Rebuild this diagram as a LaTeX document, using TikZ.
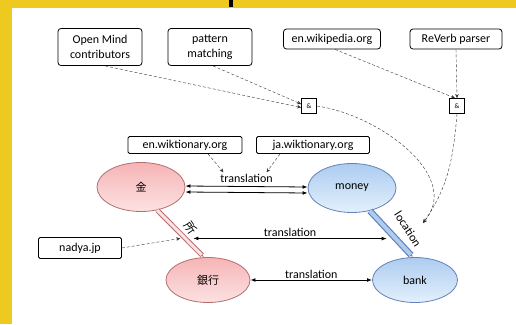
\documentclass[tikz,border=0pt]{standalone}
\usepackage{fontspec}
\setmainfont{Carlito}
\newfontfamily\jafont{Noto Sans CJK JP}
\usetikzlibrary{shapes.geometric,arrows.meta}
\definecolor{slideyellow}{RGB}{238,202,32}
\definecolor{pinktop}{RGB}{246,180,182}
\definecolor{pinkbottom}{RGB}{252,226,226}
\definecolor{pinkline}{RGB}{180,110,112}
\definecolor{bluetop}{RGB}{172,204,240}
\definecolor{bluebottom}{RGB}{228,240,252}
\definecolor{blueline}{RGB}{100,130,185}
\tikzset{
    source-box/.style = {draw, thick, rounded corners=3pt, fill=white, align=center, inner sep=2pt, minimum height=20pt, font=\fontsize{12}{15}\selectfont},
    and-box/.style = {draw, thick, minimum size=15pt, inner sep=0pt, font=\fontsize{7}{8}\selectfont},
    ja-word/.style = {ellipse, draw=pinkline, thick, top color=pinktop, bottom color=pinkbottom, inner sep=0pt, font=\fontsize{11}{12}\selectfont},
    en-word/.style = {ellipse, draw=blueline, thick, top color=bluetop, bottom color=bluebottom, inner sep=0pt, font=\fontsize{12}{13}\selectfont},
    source-arrow/.style = {densely dashed, gray!40!black, -{Stealth[length=4pt, width=3.5pt]}},
    trans-arrow/.style = {thick, {Latex[length=5pt]}-{Latex[length=5pt]}},
    edge-label/.style = {font=\fontsize{12}{13}\selectfont, inner sep=1.5pt},
}
\begin{document}
\begin{tikzpicture}[x=1pt, y=-1pt]
\useasboundingbox (0,0) rectangle (516,324);
\fill[slideyellow] (0,0) rectangle (516,324);
\fill[white] (12,8) rectangle (516,324);
\fill[black] (229,0) rectangle (233,7);

\node[source-box, minimum width=84pt, minimum height=37pt] (open-mind) at (100,47) {Open Mind\\contributors};
\node[source-box, minimum width=84pt, minimum height=37pt] (pattern) at (210,47) {pattern\\matching};
\node[source-box, minimum width=97pt] (wikipedia) at (332,39) {en.wikipedia.org};
\node[source-box, minimum width=92pt] (reverb) at (456,39) {ReVerb parser};
\node[and-box] (and-a) at (309,106) {\&};
\node[and-box] (and-b) at (457,106) {\&};
\node[source-box, rounded corners=1.5pt, minimum width=114pt, minimum height=17pt] (en-wikt) at (185,145) {en.wiktionary.org};
\node[source-box, rounded corners=1.5pt, minimum width=113pt, minimum height=17pt] (ja-wikt) at (313,145) {ja.wiktionary.org};
\node[source-box, rounded corners=1.5pt, minimum width=83pt, minimum height=21pt] (nadya) at (80,248) {nadya.jp};

\node[ja-word, minimum width=88pt, minimum height=49pt] (kin) at (141,187) {\jafont 金};
\node[en-word, minimum width=88pt, minimum height=49pt] (money) at (352,188) {money};
\node[ja-word, minimum width=84pt, minimum height=45pt] (ginkou) at (208,280) {\jafont 銀行};
\node[en-word, minimum width=85pt, minimum height=45pt] (bank) at (415,280) {bank};

\draw[pinkline, double=pinkbottom, line width=1pt, double distance=3pt, -{Latex[length=3pt]}] (kin.-55) -- coordinate[pos=0.6] (sho-mid) (ginkou.100);
\draw[blueline, double=bluetop, line width=1.2pt, double distance=4pt, -{Latex[length=3pt]}] (money.-52) -- coordinate[pos=0.6] (loc-mid) (bank.95);
\node[edge-label, rotate=-55] (sho-label) at (191,228) {\jafont 所};
\node[edge-label, rotate=-57] (loc-label) at (408,229) {location};

\draw[trans-arrow] ([yshift=1pt]kin.east) -- node[edge-label, above=2pt] (trans-top) {translation} ([yshift=1pt]money.west);
\draw[trans-arrow] ([yshift=-5pt]kin.east) -- ([yshift=-5pt]money.west);
\draw[trans-arrow] ([xshift=8pt]sho-mid) -- node[edge-label, above] {translation} ([xshift=-9pt]loc-mid);
\draw[trans-arrow] (ginkou.east) -- node[edge-label, above] {translation} (bank.west);

\draw[source-arrow] ([xshift=5pt]open-mind.south) -- ([yshift=-1.5pt]and-a.west);
\draw[source-arrow] ([xshift=3pt]pattern.south) -- ([yshift=2pt]and-a.west);
\draw[source-arrow] ([xshift=3pt]wikipedia.south) -- ([xshift=-2pt]and-b.north);
\draw[source-arrow] (reverb.south) -- (and-b.north);
\draw[source-arrow] ([xshift=23pt]en-wikt.south) -- ([xshift=5pt]trans-top.north west);
\draw[source-arrow] ([xshift=-33pt]ja-wikt.south) -- ([xshift=-8pt]trans-top.north east);
\draw[source-arrow] (nadya.east) -- ([xshift=-5pt]sho-mid);
\draw[source-arrow] (and-a.east) to[out=-8, in=50] ([xshift=15pt,yshift=6pt]loc-label.center);
\draw[source-arrow] (and-b.south) to[out=-95, in=55] ([xshift=15pt,yshift=6pt]loc-label.center);
\end{tikzpicture}
\end{document}
